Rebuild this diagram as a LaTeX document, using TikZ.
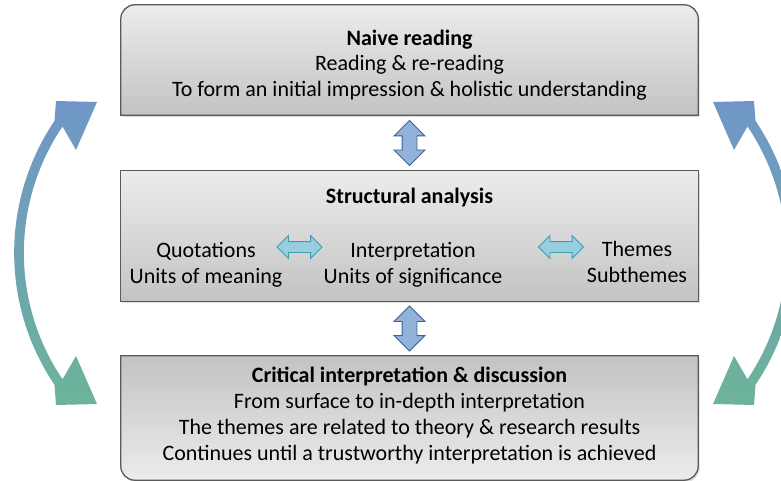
\documentclass[tikz,border=0pt]{standalone}
\usepackage{fontspec}
\setmainfont{Carlito}
\usetikzlibrary{shapes.arrows,shadows,calc,positioning}

\definecolor{boxline}{RGB}{90,90,90}
\definecolor{boxlight}{RGB}{236,236,236}
\definecolor{boxdark}{RGB}{195,195,195}
\definecolor{updownfill}{RGB}{146,178,218}
\definecolor{updownline}{RGB}{62,96,146}
\definecolor{sidefill}{RGB}{150,206,222}
\definecolor{sideline}{RGB}{66,156,180}
\definecolor{loopblue}{RGB}{112,150,200}
\definecolor{loopgreen}{RGB}{108,180,152}

\tikzset{
  stage/.style={inner sep=0pt, minimum width=577pt},
  stageline/.style={draw=boxline, line width=1.3pt,
    drop shadow={opacity=0.25, shadow xshift=1.5pt, shadow yshift=-2pt}},
  words/.style={align=center, inner sep=0pt, font=\fontsize{22}{25.8}\selectfont},
  updown/.style={double arrow, rotate=90, draw=updownline, fill=updownfill,
    line width=0.9pt, minimum height=45pt, minimum width=30pt,
    double arrow head extend=8pt, inner xsep=0pt, inner ysep=7pt},
  sideways/.style={double arrow, draw=sideline, fill=sidefill,
    line width=0.9pt, minimum height=45pt, minimum width=22pt,
    double arrow head extend=6pt, inner xsep=0pt, inner ysep=5pt},
  loop/.style={top color=loopblue, bottom color=loopgreen, middle color=loopblue!55!loopgreen}
}

\begin{document}
\begin{tikzpicture}[x=1pt,y=-1pt]
\useasboundingbox (0,0) rectangle (781,481);

%% boxes
\node[stage, minimum height=110pt] (naive)  at (409.5,60)  {};
\node[stage, minimum height=130pt] (struct) at (409.5,236) {};
\node[stage, minimum height=124pt] (crit)   at (409.5,418) {};

\shadedraw[stageline, top color=boxlight, bottom color=boxdark]
  (naive.south west) [rounded corners=14pt] -- (naive.north west) -- (naive.north east)
  [sharp corners] -- (naive.south east) -- cycle;
\shadedraw[stageline, top color=boxlight, bottom color=boxdark]
  (struct.south west) rectangle (struct.north east);
\shadedraw[stageline, top color=boxdark, bottom color=boxlight]
  (crit.north east) -- (crit.north west) [rounded corners=14pt] -- (crit.south west) -- (crit.south east)
  [sharp corners] -- cycle;

%% texts
\node[words] (naivetext) at (409.5,65)
  {\textbf{Naive reading}\\Reading \& re-reading\\To form an initial impression \& holistic understanding};
\node[words] (structitle) at (409.5,198) {\textbf{Structural analysis}};
\node[words] (quot) at (206,265) {Quotations\\Units of meaning};
\node[words] (interp) at (413,265) {Interpretation\\Units of significance};
\node[words] (themes) at (637,262) {Themes\\Subthemes};
\node[words, font=\fontsize{22}{26}\selectfont] (crittext) at (409.5,415.5)
  {\textbf{Critical interpretation \& discussion}\\From surface to in-depth interpretation\\
   The themes are related to theory \& research results\\Continues until a trustworthy interpretation is achieved};

%% arrows between the boxes
\node[updown] (upper) at ($(naive.south)!0.5!(struct.north)$) {};
\node[updown] (lower) at ($(struct.south)!0.5!(crit.north)$) {};
\node[sideways] (quotarrow)  at (299.5,247) {};
\node[sideways] (themearrow) at (561,247) {};

%% curved arrows at the sides
\begin{scope}
\clip (0,0) rectangle (781,481);
\shade[loop] (62.5,126.5) arc[start angle=-146, end angle=-214, radius=226]
  -- (76,356) -- (97,404) -- (56,405) -- (54.5,384.8)
  arc[start angle=146, end angle=214, radius=236]
  -- (56,101) -- (97,102) -- (76,150) -- cycle;
\shade[loop] (747.5,126.5) arc[start angle=-34, end angle=34, radius=226]
  -- (734,356) -- (713,404) -- (754,405) -- (755.5,384.8)
  arc[start angle=34, end angle=-34, radius=236]
  -- (754,101) -- (713,102) -- (734,150) -- cycle;
\end{scope}
\end{tikzpicture}
\end{document}
